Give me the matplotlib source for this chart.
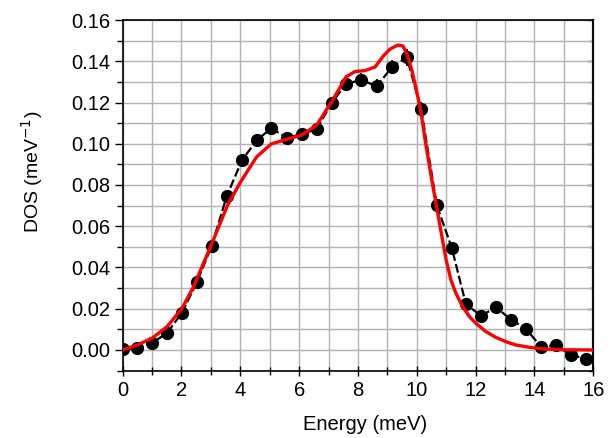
import matplotlib
matplotlib.use("Agg")
import matplotlib.pyplot as plt
from matplotlib.ticker import MultipleLocator, FormatStrFormatter

plt.rcParams['font.family'] = ['Liberation Sans', 'DejaVu Sans']

# Measured phonon density of states
energy = [0.00, 0.50, 1.00, 1.50, 2.02, 2.53, 3.03, 3.54, 4.06, 4.56, 5.05,
          5.58, 6.09, 6.60, 7.11, 7.60, 8.11, 8.64, 9.15, 9.66, 10.15, 10.68,
          11.19, 11.67, 12.19, 12.69, 13.20, 13.71, 14.22, 14.73, 15.24, 15.74]
dos = [0.0003, 0.0008, 0.0034, 0.0081, 0.0181, 0.0331, 0.0506, 0.0747, 0.0921,
       0.1017, 0.1075, 0.1029, 0.1046, 0.1072, 0.1199, 0.1291, 0.1309, 0.1279,
       0.1371, 0.1419, 0.1167, 0.0702, 0.0495, 0.0222, 0.0165, 0.0208, 0.0147,
       0.0103, 0.0016, 0.0023, -0.0024, -0.0042]
dos_err = [0.001, 0.001, 0.0015, 0.0015, 0.002, 0.002, 0.0025, 0.0025, 0.003,
           0.003, 0.003, 0.003, 0.003, 0.003, 0.003, 0.0035, 0.0035, 0.0035,
           0.0035, 0.004, 0.0035, 0.003, 0.0025, 0.002, 0.002, 0.002, 0.002,
           0.002, 0.0015, 0.0015, 0.0015, 0.0015]

# Calculated DOS curve
fit_energy = [0.00, 0.49, 1.00, 1.51, 2.02, 2.41, 3.06, 3.57, 3.99, 4.33, 4.56,
              5.05, 5.58, 6.09, 6.60, 6.88, 7.11, 7.60, 7.90, 8.24, 8.58, 8.86,
              9.09, 9.36, 9.53, 9.66, 9.83, 10.00, 10.13, 10.30, 10.51, 10.68,
              10.85, 11.00, 11.16, 11.33, 11.56, 11.79, 12.01, 12.35, 12.69,
              13.03, 13.37, 13.83, 14.28, 15.00, 16.00]
fit_dos = [0.0000, 0.0024, 0.0057, 0.0113, 0.0202, 0.0307, 0.0525, 0.0703,
           0.0810, 0.0887, 0.0937, 0.0999, 0.1022, 0.1042, 0.1091, 0.1154,
           0.1204, 0.1325, 0.1350, 0.1355, 0.1372, 0.1425, 0.1459, 0.1479,
           0.1474, 0.1438, 0.1358, 0.1252, 0.1164, 0.1005, 0.0824, 0.0690,
           0.0553, 0.0436, 0.0340, 0.0275, 0.0210, 0.0162, 0.0129, 0.0089,
           0.0061, 0.0040, 0.0024, 0.0013, 0.0005, 0.0001, 0.0000]

fig = plt.figure(figsize=(6.14, 4.38), dpi=100)
ax = fig.add_axes([0.1998, 0.1539, 0.7664, 0.8004])

ax.set_xlim(0, 16)
ax.set_ylim(-0.01, 0.16)

ax.xaxis.set_major_locator(MultipleLocator(2))
ax.xaxis.set_minor_locator(MultipleLocator(1))
ax.yaxis.set_major_locator(MultipleLocator(0.02))
ax.yaxis.set_minor_locator(MultipleLocator(0.01))
ax.yaxis.set_major_formatter(FormatStrFormatter('%.2f'))
ax.set_yticks([0.00, 0.02, 0.04, 0.06, 0.08, 0.10, 0.12, 0.14, 0.16])

ax.grid(which='both', color='#b2b2b2', lw=1.0, zorder=0)
ax.set_axisbelow(True)

ax.tick_params(axis='x', which='both', direction='inout', top=False,
               labelsize=14.5, pad=4, width=1.0, color='black')
ax.tick_params(axis='x', which='major', length=7)
ax.tick_params(axis='x', which='minor', length=6)
ax.tick_params(axis='y', which='both', direction='out', right=False,
               labelsize=14.5, pad=3, width=1.0)
ax.tick_params(axis='y', which='major', length=6)
ax.tick_params(axis='y', which='minor', length=4)

right = ax.secondary_yaxis('right')
right.yaxis.set_major_locator(MultipleLocator(0.02))
right.yaxis.set_minor_locator(MultipleLocator(0.01))
right.tick_params(which='both', direction='in', labelright=False, width=1.0)
right.tick_params(which='major', length=4)
right.tick_params(which='minor', length=3)

for s in ax.spines.values():
    s.set_linewidth(1.2)
    s.set_color('black')
right.spines['right'].set_linewidth(1.6)
right.spines['right'].set_color('#333333')

# measured points joined by a dashed line
ax.plot(energy, dos, color='black', lw=1.6, ls=(0, (4, 1.5)), zorder=2)
ax.errorbar(energy, dos, yerr=dos_err, fmt='o', color='black', ms=8.5,
            ecolor='black', elinewidth=1.3, capsize=0, zorder=3)

# calculated curve
ax.plot(fit_energy, fit_dos, color='#ff0000', lw=2.4, zorder=4,
        solid_joinstyle='round')

ax.set_xlabel('Energy (meV)', fontsize=14.5)
ax.set_ylabel('DOS (meV$^{-1}$)', fontsize=14)
ax.xaxis.set_label_coords(0.515, -0.128)
ax.yaxis.set_label_coords(-0.165, 0.566)

fig.savefig('out.png', dpi=100)
